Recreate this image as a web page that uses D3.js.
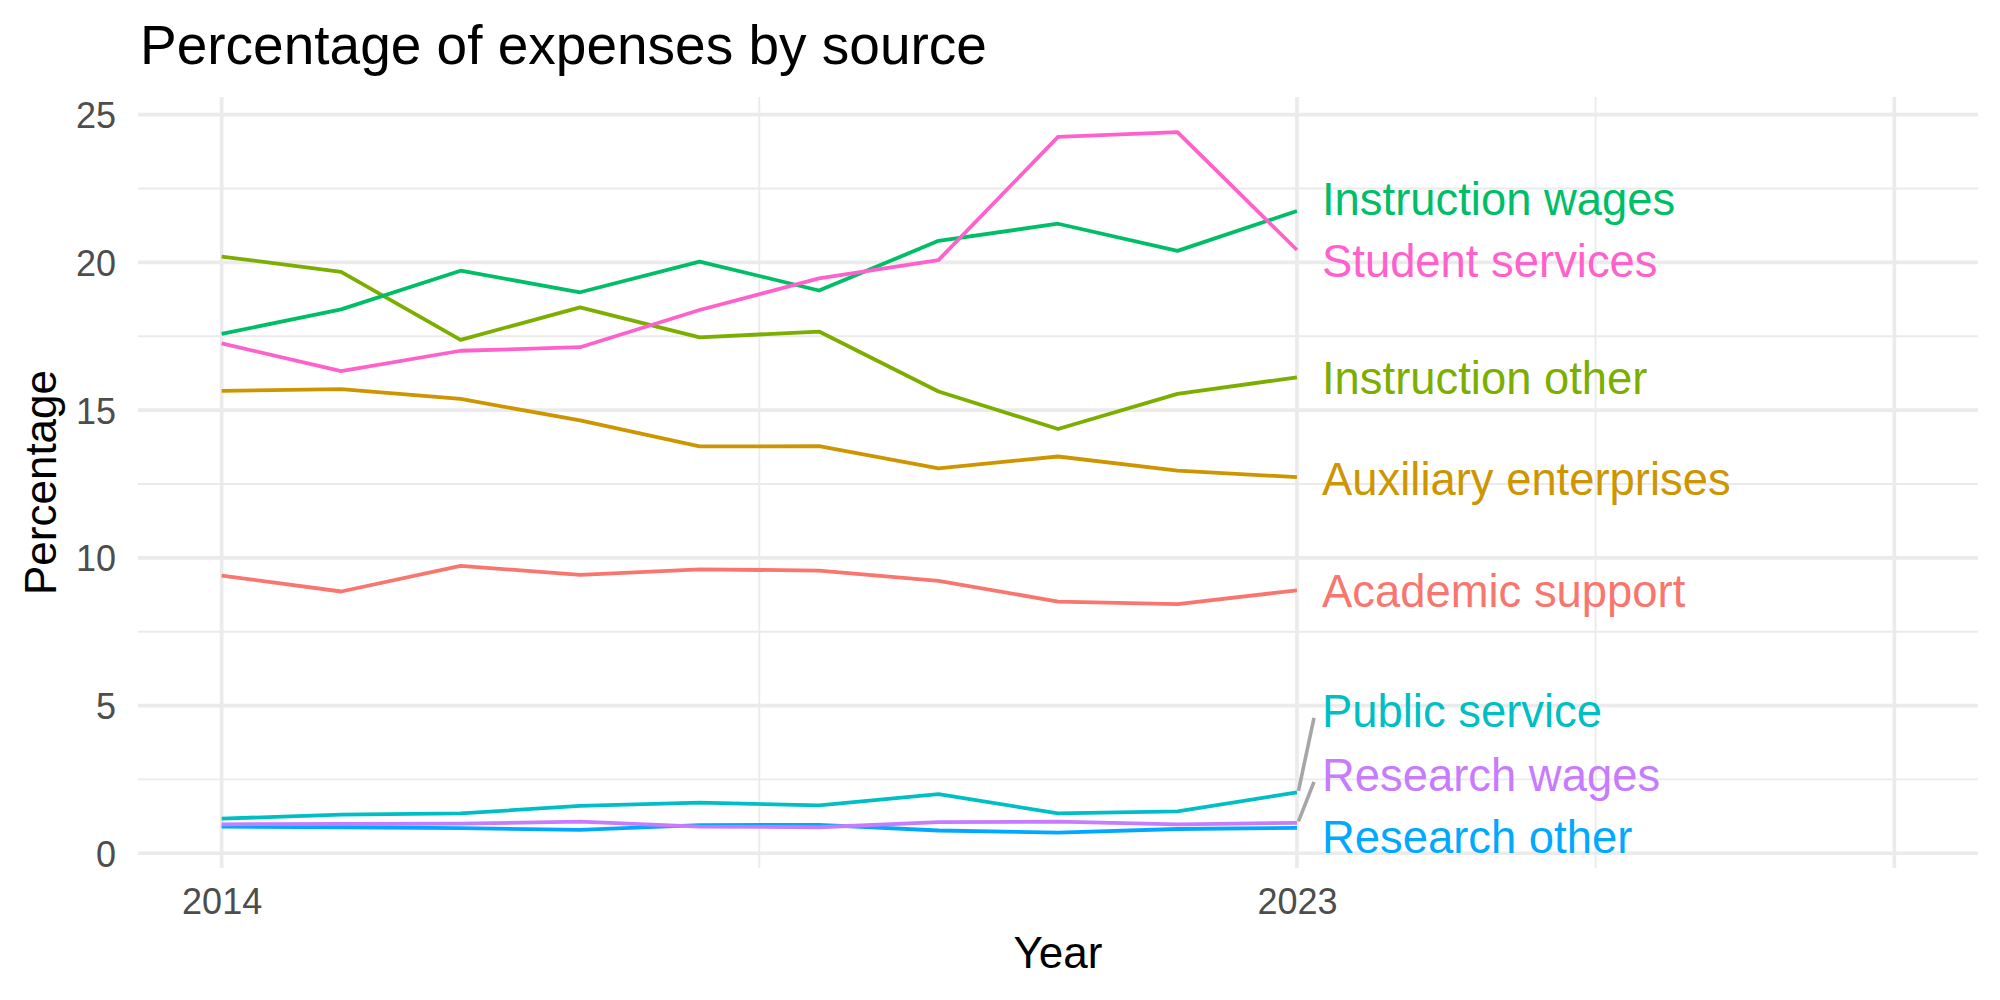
<!DOCTYPE html>
<html>
<head>
<meta charset="utf-8">
<script src="https://cdn.jsdelivr.net/npm/d3@7"></script>
<style>
  body { margin: 0; background: #fff; }
  svg text { font-family: "Liberation Sans", Arial, Helvetica, sans-serif; }
</style>
</head>
<body>
<svg id="chart" width="2000" height="1000"></svg>
<script>
// years on the x axis
var years = [2014, 2015, 2016, 2017, 2018, 2019, 2020, 2021, 2022, 2023];

// one array per source
var academicSupport      = [9.40, 8.86, 9.73, 9.42, 9.61, 9.57, 9.22, 8.52, 8.43, 8.90];
var auxiliaryEnterprises = [15.65, 15.71, 15.38, 14.65, 13.77, 13.78, 13.03, 13.43, 12.95, 12.73];
var instructionOther     = [20.20, 19.68, 17.38, 18.48, 17.46, 17.66, 15.63, 14.36, 15.55, 16.11];
var instructionWages     = [17.58, 18.41, 19.72, 18.99, 20.03, 19.05, 20.73, 21.31, 20.39, 21.74];
var publicService        = [1.17, 1.31, 1.35, 1.60, 1.71, 1.62, 2.00, 1.35, 1.42, 2.06];
var researchOther        = [0.90, 0.88, 0.85, 0.79, 0.95, 0.96, 0.77, 0.70, 0.82, 0.86];
var researchWages        = [0.98, 0.99, 1.00, 1.07, 0.90, 0.88, 1.05, 1.07, 0.98, 1.03];
var studentServices      = [17.26, 16.32, 17.01, 17.13, 18.39, 19.46, 20.08, 24.25, 24.41, 20.42];

var sourceNames = ["Academic support", "Auxiliary enterprises", "Instruction other", "Instruction wages",
                   "Public service", "Research other", "Research wages", "Student services"];
var sourceValues = [academicSupport, auxiliaryEnterprises, instructionOther, instructionWages,
                    publicService, researchOther, researchWages, studentServices];
// where the repelled end labels ended up (in percentage units)
var labelValues = [8.88, 12.67, 16.09, 22.13, 4.82, 0.55, 2.65, 20.05];
var colors = ["#F8766D", "#CD9600", "#7CAE00", "#00BE67", "#00BFC4", "#00A9FF", "#C77CFF", "#FF61CC"];

var xTicks = [2014, 2023];
var xMajorGrid = [2014, 2023, 2028];
var xMinorGrid = [2018.5, 2025.5];
var yTicks = [0, 5, 10, 15, 20, 25];
var yMinorGrid = [2.5, 7.5, 12.5, 17.5, 22.5];

var svg = d3.select("#chart");
var panel = {left: 138, right: 1978, top: 97, bottom: 868};

var x = d3.scaleLinear().domain([2013.3, 2028.7]).range([panel.left, panel.right]);
var y = d3.scaleLinear().domain([-0.5, 25.6]).range([panel.bottom, panel.top]);

var grid = svg.append("g");
grid.selectAll(".ymin").data(yMinorGrid).enter().append("line")
    .attr("x1", panel.left).attr("x2", panel.right)
    .attr("y1", d => y(d)).attr("y2", d => y(d))
    .attr("stroke", "#EBEBEB").attr("stroke-width", 1.9);
grid.selectAll(".xmin").data(xMinorGrid).enter().append("line")
    .attr("x1", d => x(d)).attr("x2", d => x(d))
    .attr("y1", panel.top).attr("y2", panel.bottom)
    .attr("stroke", "#EBEBEB").attr("stroke-width", 1.9);
grid.selectAll(".ymaj").data(yTicks).enter().append("line")
    .attr("x1", panel.left).attr("x2", panel.right)
    .attr("y1", d => y(d)).attr("y2", d => y(d))
    .attr("stroke", "#EBEBEB").attr("stroke-width", 3.7);
grid.selectAll(".xmaj").data(xMajorGrid).enter().append("line")
    .attr("x1", d => x(d)).attr("x2", d => x(d))
    .attr("y1", panel.top).attr("y2", panel.bottom)
    .attr("stroke", "#EBEBEB").attr("stroke-width", 3.7);

// axes, no ticks or domain line (theme_minimal)
var xAxis = svg.append("g").attr("transform", "translate(0," + panel.bottom + ")")
    .call(d3.axisBottom(x).tickValues(xTicks).tickFormat(d3.format("d")).tickSize(0).tickPadding(46));
var yAxis = svg.append("g").attr("transform", "translate(" + panel.left + ",0)")
    .call(d3.axisLeft(y).tickValues(yTicks).tickSize(0).tickPadding(22));
[xAxis, yAxis].forEach(function(a) {
    a.select(".domain").remove();
    a.selectAll("text").attr("fill", "#4D4D4D").style("font-size", "36px")
        .style("font-family", "'Liberation Sans', Arial, sans-serif");
});
xAxis.selectAll("text").attr("dy", 0);
yAxis.selectAll("text").attr("dy", "0.36em");

var line = d3.line().x((d, i) => x(years[i])).y(d => y(d));
svg.append("g").selectAll("path").data(sourceValues).enter().append("path")
    .attr("d", d => line(d))
    .attr("fill", "none")
    .attr("stroke", (d, i) => colors[i])
    .attr("stroke-width", 3.8)
    .attr("stroke-linejoin", "round");

// end labels with connector segments when the label was pushed away
var lastYear = years[years.length - 1];
var labelX = 1322;
var labels = svg.append("g");
sourceNames.forEach(function(name, i) {
    var vals = sourceValues[i];
    var py = y(vals[vals.length - 1]);
    var ly = y(labelValues[i]);
    if (Math.abs(py - ly) > 40) {
        labels.append("line")
            .attr("x1", x(lastYear) + 1.5).attr("y1", py - 1.5)
            .attr("x2", labelX - 8).attr("y2", ly + 7)
            .attr("stroke", "#A6A6A6").attr("stroke-width", 3.6);
    }
    labels.append("text")
        .attr("x", labelX).attr("y", ly).attr("dy", "0.35em")
        .attr("fill", colors[i])
        .style("font-size", "45.4px")
        .text(name);
});

svg.append("text").attr("x", 140).attr("y", 64)
    .style("font-size", "55px").attr("fill", "#000")
    .text("Percentage of expenses by source");

svg.append("text").attr("x", (panel.left + panel.right) / 2).attr("y", 968)
    .attr("text-anchor", "middle").style("font-size", "44px").attr("fill", "#000")
    .text("Year");

svg.append("text")
    .attr("transform", "translate(56," + ((panel.top + panel.bottom) / 2) + ") rotate(-90)")
    .attr("text-anchor", "middle").style("font-size", "44px").attr("fill", "#000")
    .text("Percentage");
</script>
</body>
</html>
